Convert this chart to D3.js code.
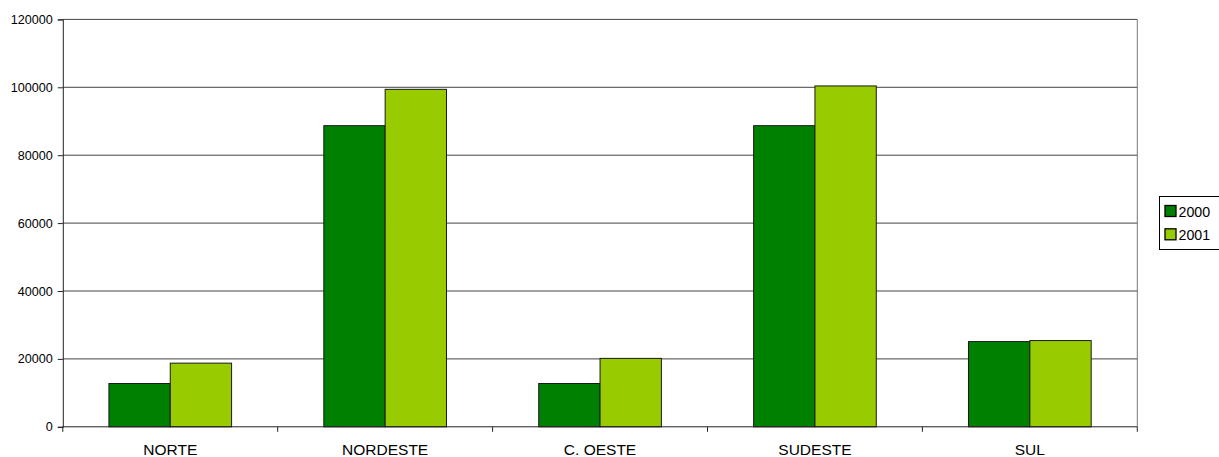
<!DOCTYPE html>
<html>
<head>
<meta charset="utf-8">
<script src="https://cdn.jsdelivr.net/npm/d3@7"></script>
<style>
  html, body { margin: 0; padding: 0; background: #fff; overflow: hidden; }
  svg { display: block; font-family: Arial, "Liberation Sans", Helvetica, sans-serif; }
</style>
</head>
<body>
<svg id="chart" width="1219" height="457"></svg>
<script>
// Regions and yearly totals
const categories = ["NORTE", "NORDESTE", "C. OESTE", "SUDESTE", "SUL"];
const years = ["2000", "2001"];
const values2000 = [12750, 88700, 12750, 88700, 25100];
const values2001 = [18750, 99400, 20150, 100400, 25400];
const yTicks = [0, 20000, 40000, 60000, 80000, 100000, 120000];
const colors = ["#008000", "#99CC00"];

const seriesValues = [values2000, values2001];
const rows = categories.map((c, i) => ({
  category: c,
  values: years.map((y, k) => ({ year: y, value: seriesValues[k][i], k }))
}));

const svg = d3.select("#chart");
const plot = { left: 62.8, right: 1137.3, top: 19.4, bottom: 426.8 };

const x = d3.scaleBand().domain(categories).range([plot.left, plot.right]).padding(0);
const x1 = d3.scaleBand().domain(years).range([0, x.bandwidth()]).paddingInner(0).paddingOuter(0.752);
const y = d3.scaleLinear().domain([0, 120000]).range([plot.bottom, plot.top]);

// Horizontal gridlines
svg.append("g")
  .selectAll("line")
  .data(yTicks.filter(t => t > 0))
  .join("line")
  .attr("x1", plot.left).attr("x2", plot.right)
  .attr("y1", d => y(d)).attr("y2", d => y(d))
  .attr("stroke", "#444").attr("stroke-width", 1);

// Right border of the plot area
svg.append("line")
  .attr("x1", plot.right).attr("x2", plot.right)
  .attr("y1", plot.top).attr("y2", plot.bottom)
  .attr("stroke", "#777").attr("stroke-width", 1);

// Bars
const groups = svg.append("g")
  .selectAll("g")
  .data(rows)
  .join("g")
  .attr("transform", d => `translate(${x(d.category)},0)`);

groups.selectAll("rect")
  .data(d => d.values)
  .join("rect")
  .attr("x", d => x1(d.year))
  .attr("width", x1.bandwidth())
  .attr("y", d => y(d.value))
  .attr("height", d => y(0) - y(d.value))
  .attr("fill", d => colors[d.k])
  .attr("stroke", "#1a1a1a")
  .attr("stroke-width", 1);

// Y axis
const yAxis = svg.append("g")
  .attr("transform", `translate(${plot.left},0)`)
  .call(d3.axisLeft(y).tickValues(yTicks).tickFormat(d3.format("d")).tickSize(5).tickPadding(5));
yAxis.select(".domain").attr("stroke", "#222");
yAxis.selectAll(".tick line").attr("stroke", "#222");
yAxis.selectAll(".tick text").attr("fill", "#000").style("font-size", "12.6px")
  .style("font-family", "Arial, 'Liberation Sans', Helvetica, sans-serif");

// X axis with ticks between categories
const xAxisG = svg.append("g").attr("transform", `translate(0,${plot.bottom})`);
xAxisG.append("line")
  .attr("x1", plot.left).attr("x2", plot.right)
  .attr("stroke", "#222").attr("stroke-width", 1);
const boundaries = categories.map(c => x(c)).concat([x(categories[categories.length - 1]) + x.bandwidth()]);
xAxisG.selectAll("line.tick")
  .data(boundaries)
  .join("line")
  .attr("class", "tick")
  .attr("x1", d => d).attr("x2", d => d)
  .attr("y1", 0).attr("y2", 5)
  .attr("stroke", "#222");
xAxisG.selectAll("text")
  .data(categories)
  .join("text")
  .attr("x", d => x(d) + x.bandwidth() / 2)
  .attr("y", 28)
  .attr("text-anchor", "middle")
  .style("font-size", "15.5px")
  .attr("fill", "#000")
  .text(d => d);

// Legend
const legend = svg.append("g");
legend.append("rect")
  .attr("x", 1159.5).attr("y", 196.5)
  .attr("width", 70).attr("height", 53)
  .attr("fill", "#fff").attr("stroke", "#000").attr("stroke-width", 1);
const items = legend.selectAll("g.item")
  .data(years)
  .join("g")
  .attr("class", "item")
  .attr("transform", (d, i) => `translate(0,${i * 23.3})`);
items.append("rect")
  .attr("x", 1165).attr("y", 205.5)
  .attr("width", 11).attr("height", 11)
  .attr("fill", (d, i) => colors[i])
  .attr("stroke", "#000").attr("stroke-width", 1.3);
items.append("text")
  .attr("x", 1178.5).attr("y", 216.8)
  .style("font-size", "14.2px")
  .attr("fill", "#000")
  .text(d => d);
</script>
</body>
</html>
